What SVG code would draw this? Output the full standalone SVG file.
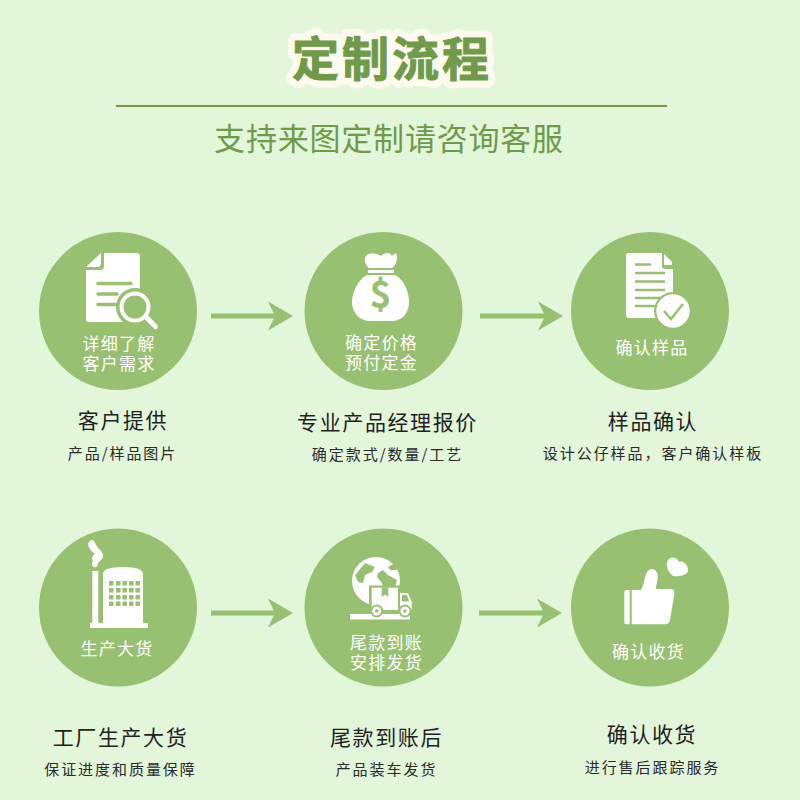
<svg xmlns="http://www.w3.org/2000/svg" width="800" height="800" viewBox="0 0 800 800">
<style>
text{font-family:"Noto Sans CJK SC","Noto Sans",sans-serif;text-anchor:middle}
.c{fill:#98c071}
.w{fill:#fff}
.g{fill:#98c071}
.il{font-size:17px;fill:#fff;letter-spacing:1.2px}
.h{font-size:21px;fill:#1f1f1f;letter-spacing:1.6px}
.s{font-size:15px;fill:#2a2a2a;letter-spacing:1.95px}
.ar{stroke:#98c071;stroke-width:5;fill:none}
</style>
<defs>
<path id="ah" d="M-25-14.500L0 0L-25 14.500L-18 0Z" fill="#98c071"/>
</defs>
<rect width="800" height="800" fill="#e2f6da"/>
<g id="title">
<text x="392" y="76" font-size="47" font-weight="700" letter-spacing="3" fill="#fdfaf0" stroke="#fdfaf0" stroke-width="15" stroke-linejoin="round">定制流程</text>
<text x="392" y="76" font-size="47" font-weight="700" letter-spacing="3" fill="#6f9a48" stroke="#6f9a48" stroke-width="1" stroke-linejoin="round">定制流程</text>
<rect x="116" y="105" width="551" height="2" fill="#6f9a48"/>
<text x="389" y="150" font-size="31" fill="#6f9a48" letter-spacing=".8">支持来图定制请咨询客服</text>
</g>
<g id="connectors">
<path class="ar" d="M211 316H276"/><use href="#ah" x="293" y="316"/>
<path class="ar" d="M480 316H546"/><use href="#ah" x="563" y="316"/>
<path class="ar" d="M211 613H276"/><use href="#ah" x="293" y="613"/>
<path class="ar" d="M479 613H545"/><use href="#ah" x="562" y="613"/>
</g>
<g id="node1">
<circle class="c" cx="118" cy="311" r="79"/>
<path class="w" d="M104 253H137Q140 253 140 256V322H88Q86 322 86 320V270H100Q104 270 104 266Z"/>
<path class="w" d="M86 267L101 253V263Q101 267 97 267Z"/>
<path d="M98 283.500H131M98 294H117M98 304.500H116" stroke="#98c071" stroke-width="3.500" stroke-linecap="round" fill="none"/>
<circle cx="135" cy="307" r="19" class="g"/>
<circle cx="135" cy="307" r="13.500" fill="#98c071" stroke="#fff" stroke-width="4"/>
<path d="M147 318L155.500 326.500" stroke="#fff" stroke-width="5" stroke-linecap="round"/>
<text class="il"><tspan x="119" y="349.500">详细了解</tspan><tspan x="119" y="370">客户需求</tspan></text>
<text class="h" x="123" y="428">客户提供</text>
<text class="s" x="122.500" y="459">产品/样品图片</text>
</g>
<g id="node2">
<circle class="c" cx="383.500" cy="311" r="79"/>
<path class="w" d="M365 258C367 252 374 252 381 256C385 252 390 252 392 256C396 252 397 253 397 258C397 262 395 266 392 268H369C366 266 364 262 365 258Z"/>
<rect class="w" x="368" y="270" width="26" height="3"/>
<path class="w" d="M367 275H395C406 281 409 295 409 302C409 313 402 321 392 321H370C360 321 352 313 352 302C352 295 356 281 367 275Z"/>
<text x="380.500" y="308" font-family="Liberation Sans,sans-serif" font-size="37" font-weight="700" fill="#98c071">$</text>
<text class="il"><tspan x="381.500" y="349">确定价格</tspan><tspan x="381.500" y="369">预付定金</tspan></text>
<text class="h" x="387.500" y="430">专业产品经理报价</text>
<text class="s" x="387.500" y="460">确定款式/数量/工艺</text>
</g>
<g id="node3">
<circle class="c" cx="650" cy="311" r="79"/>
<path class="w" d="M629 253H662V266Q662 269 665 269H673V318H629Q626 318 626 315V256Q626 253 629 253Z"/>
<path class="w" d="M664 254L672 262V265H664Z"/>
<path d="M635 264.500H651M635 273H665M635 281.500H665M635 290H665M635 298H665M635 306H655" stroke="#98c071" stroke-width="2.500" fill="none"/>
<circle cx="673" cy="311" r="19" class="g"/>
<circle cx="673" cy="311" r="16.700" class="w"/>
<path d="M664 311L671 319L683 304" stroke="#98c071" stroke-width="2.500" fill="none"/>
<text class="il" x="652" y="354">确认样品</text>
<text class="h" x="653" y="429">样品确认</text>
<text class="s" x="653" y="459">设计公仔样品，客户确认样板</text>
</g>
<g id="node4">
<circle class="c" cx="118" cy="607.500" r="79"/>
<path class="w" d="M92 540C95 541 96 545 98 548C101 550 103 553 103 556C103 560 99 561 98 563C98 566 96 568 94 567C91 566 92 563 93 561C91 558 93 555 95 554C92 552 89 549 88 545C88 542 90 540 92 540Z"/>
<rect class="w" x="92.300" y="571" width="6" height="53"/>
<path class="w" d="M103 574Q103 567 123 567Q143 567 143 574V624H103Z"/>
<rect class="w" x="90" y="623" width="58" height="5"/>
<g fill="#98c071">
<rect x="109" y="581" width="4.500" height="4.500"/><rect x="116" y="581" width="4.500" height="4.500"/><rect x="122.500" y="581" width="4.500" height="4.500"/><rect x="129" y="581" width="4.500" height="4.500"/><rect x="135.500" y="581" width="4.500" height="4.500"/>
<rect x="109" y="588" width="4.500" height="4.500"/><rect x="116" y="588" width="4.500" height="4.500"/><rect x="122.500" y="588" width="4.500" height="4.500"/><rect x="129" y="588" width="4.500" height="4.500"/><rect x="135.500" y="588" width="4.500" height="4.500"/>
<rect x="109" y="595" width="4.500" height="4.500"/><rect x="116" y="595" width="4.500" height="4.500"/><rect x="122.500" y="595" width="4.500" height="4.500"/><rect x="129" y="595" width="4.500" height="4.500"/><rect x="135.500" y="595" width="4.500" height="4.500"/>
<rect x="109" y="601.500" width="4.500" height="4.500"/><rect x="116" y="601.500" width="4.500" height="4.500"/><rect x="122.500" y="601.500" width="4.500" height="4.500"/><rect x="129" y="601.500" width="4.500" height="4.500"/><rect x="135.500" y="601.500" width="4.500" height="4.500"/>
</g>
<text class="il" x="117" y="655">生产大货</text>
<text class="h" x="120.500" y="745">工厂生产大货</text>
<text class="s" x="120.500" y="775">保证进度和质量保障</text>
</g>
<g id="node5">
<circle class="c" cx="383.500" cy="607.500" r="79"/>
<circle class="w" cx="376" cy="581" r="24"/>
<path class="g" d="M355 575L365 563L375 567L372 572L365 575L363 583L358 582ZM388 567L395 563L397 570L390 570ZM378 573L383 570L388 575L397 580L395 587H383L382 583L377 577Z"/>
<path class="g" d="M369 585.500H401V591H414V613H369Z"/>
<path class="w" d="M371.700 587.700H398V610H371.700ZM400 593H408L411.700 602V610H400Z"/>
<path class="g" d="M381.700 587.700H388.300V597L385 594.500L381.700 597ZM402 595H407L409 601.500H402Z"/>
<rect class="w" x="350" y="614" width="60" height="5.500"/>
<circle class="g" cx="376.700" cy="611" r="6.500"/><circle class="w" cx="376.700" cy="611" r="4.500"/><circle class="g" cx="376.700" cy="611" r="1.700"/>
<circle class="g" cx="405" cy="611" r="6.500"/><circle class="w" cx="405" cy="611" r="4.500"/><circle class="g" cx="405" cy="611" r="1.700"/>
<text class="il"><tspan x="386.500" y="649">尾款到账</tspan><tspan x="386.500" y="669">安排发货</tspan></text>
<text class="h" x="386.500" y="745">尾款到账后</text>
<text class="s" x="386.500" y="775">产品装车发货</text>
</g>
<g id="node6">
<circle class="c" cx="650" cy="607.500" r="79"/>
<path class="w" d="M626 590H629.700V624.300H626Q624.300 624.300 624.300 622V592Q624.300 590 626 590ZM631.700 590H641C644 585 644 580 645.700 575C648 567 656 567 657.700 575C658 581 656 585 655.700 589H671Q675 589 674.300 594L670 620Q669 624.300 665 624.300H631.700Z"/>
<path class="w" d="M673 576C668 572 665 565 668 560C671 556 677 557 679 562C683 560 688 565 688 570C688 575 680 577 673 576Z"/>
<text class="il" x="648.500" y="658">确认收货</text>
<text class="h" x="652" y="742">确认收货</text>
<text class="s" x="652.500" y="773">进行售后跟踪服务</text>
</g>
</svg>
